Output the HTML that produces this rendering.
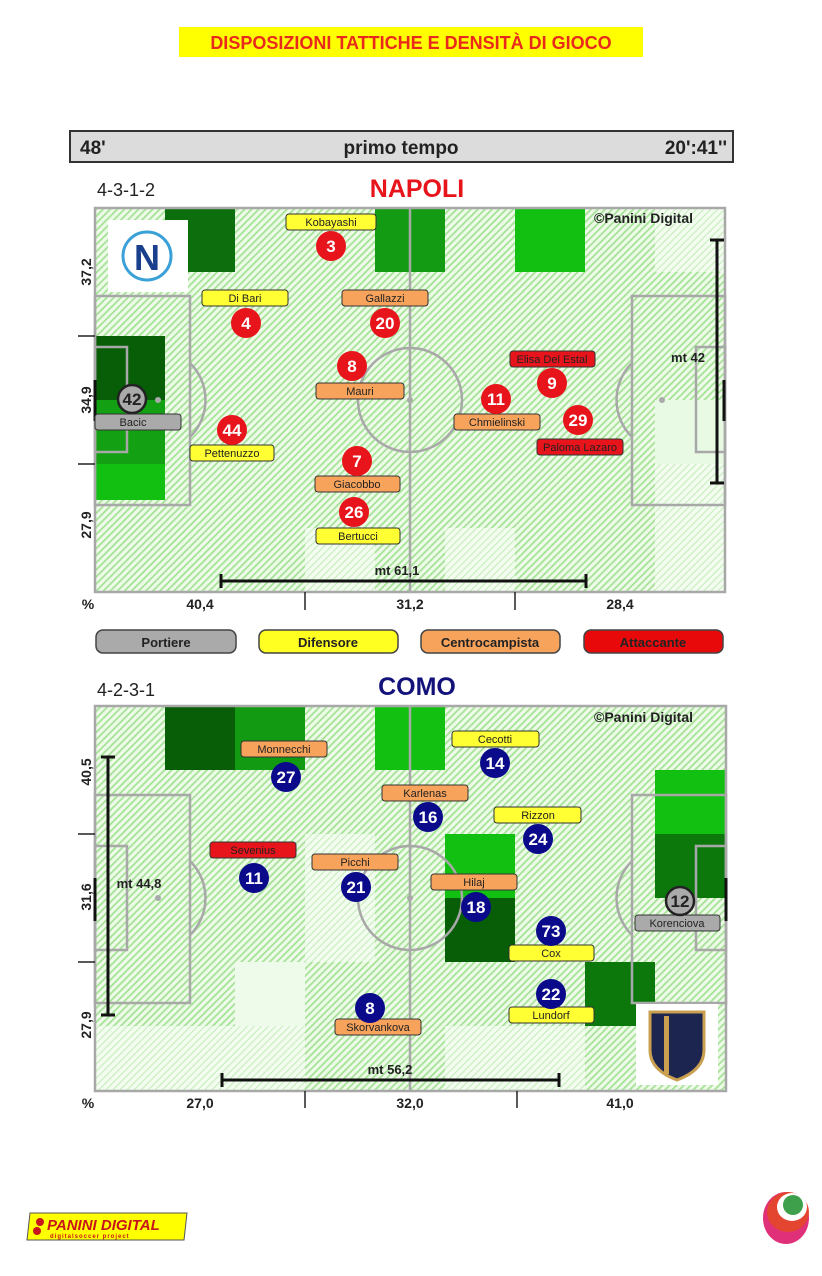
<!DOCTYPE html>
<html><head><meta charset="utf-8"><style>
html,body{margin:0;padding:0;background:#fff;width:822px;height:1276px;overflow:hidden}
svg{display:block}
text{font-family:"Liberation Sans",sans-serif}
.n{font-family:"Liberation Sans Narrow","Liberation Sans",sans-serif;font-size:11px;text-anchor:middle;fill:#222}
.num{font-family:"Liberation Sans Narrow","Liberation Sans",sans-serif;font-size:17px;font-weight:bold;fill:#fff;text-anchor:middle}
.ax{font-size:14px;font-weight:bold;fill:#222;text-anchor:middle}
.ln{stroke:#a8a8a8;stroke-width:2.5;fill:none}
.pd{font-family:"Liberation Sans Narrow","Liberation Sans",sans-serif;font-size:14px;font-weight:bold;fill:#222}
</style></head><body>
<svg width="822" height="1276" viewBox="0 0 822 1276" xmlns="http://www.w3.org/2000/svg">
<defs>
<pattern id="h" patternUnits="userSpaceOnUse" width="5" height="5" patternTransform="rotate(45)">
<rect width="5" height="5" fill="#eefbe8"/><rect width="1.8" height="5" fill="#a6e298"/>
</pattern>
<pattern id="h2" patternUnits="userSpaceOnUse" width="5" height="5" patternTransform="rotate(45)">
<rect width="5" height="5" fill="#f2fcef"/><rect width="1" height="5" fill="#c4ecba"/>
</pattern>
</defs>

<rect x="179" y="27" width="464" height="30" fill="#ffff00"/>
<text x="411" y="49" font-size="18" font-weight="bold" fill="#e8291c" text-anchor="middle">DISPOSIZIONI TATTICHE E DENSITÀ DI GIOCO</text>

<rect x="70" y="131" width="663" height="31" fill="#dcdcdc" stroke="#333" stroke-width="2"/>
<text x="80" y="154" font-size="19" font-weight="bold" fill="#222">48'</text>
<text x="401" y="154" font-size="19" font-weight="bold" fill="#222" text-anchor="middle">primo tempo</text>
<text x="727" y="154" font-size="19" font-weight="bold" fill="#222" text-anchor="end">20':41''</text>

<text x="97" y="196" font-size="18" fill="#222">4-3-1-2</text>
<text x="417" y="197" font-size="25" font-weight="bold" fill="#e8141c" text-anchor="middle">NAPOLI</text>

<rect x="95" y="208" width="630" height="384" fill="url(#h)"/>
<rect x="655" y="208" width="70" height="64" fill="url(#h2)"/>
<rect x="655" y="464" width="70" height="128" fill="url(#h2)"/>
<rect x="305" y="528" width="70" height="64" fill="url(#h2)"/>
<rect x="445" y="528" width="70" height="64" fill="url(#h2)"/>
<rect x="655" y="400" width="70" height="64" fill="#e8fae4"/>
<rect x="165" y="208" width="70" height="64" fill="#0c6e0c"/>
<rect x="375" y="208" width="70" height="64" fill="#139c13"/>
<rect x="515" y="208" width="70" height="64" fill="#12c012"/>
<rect x="95" y="336" width="70" height="64" fill="#075e07"/>
<rect x="95" y="400" width="70" height="64" fill="#13a013"/>
<rect x="95" y="464" width="70" height="36" fill="#12c012"/>
<rect x="108" y="220" width="80" height="72" fill="#fff"/>
<circle cx="147" cy="256" r="24" fill="#fff" stroke="#3aa0d8" stroke-width="3"/>
<text x="147" y="270" font-size="36" font-weight="bold" fill="#1a3f8c" text-anchor="middle">N</text>
<g class="ln">
<rect x="95" y="208" width="630" height="384"/>
<line x1="410" y1="208" x2="410" y2="592"/>
<circle cx="410" cy="400" r="52"/>
<rect x="95" y="296" width="95" height="209"/>
<rect x="95" y="347" width="32" height="105"/>
<rect x="632" y="296" width="93" height="209"/>
<rect x="696" y="347" width="29" height="105"/>
<path d="M190 363 A52 52 0 0 1 190 437"/>
<path d="M632 363 A52 52 0 0 0 632 437"/>
</g>
<circle cx="410" cy="400" r="3" fill="#aaa"/><circle cx="158" cy="400" r="3" fill="#aaa"/><circle cx="662" cy="400" r="3" fill="#aaa"/>
<text class="pd" x="594" y="223">©Panini Digital</text>
<g stroke="#111" stroke-width="3">
<line x1="221" y1="581" x2="586" y2="581"/><line x1="221" y1="574" x2="221" y2="588"/><line x1="586" y1="574" x2="586" y2="588"/>
<line x1="717" y1="240" x2="717" y2="483"/><line x1="710" y1="240" x2="724" y2="240"/><line x1="710" y1="483" x2="724" y2="483"/>
<line x1="724" y1="380" x2="724" y2="421"/>
<line x1="95" y1="380" x2="95" y2="421"/>
</g>
<text x="397" y="575" font-size="13" font-weight="bold" fill="#222" text-anchor="middle">mt 61,1</text>
<text x="688" y="362" font-size="13" font-weight="bold" fill="#222" text-anchor="middle">mt 42</text>
<g stroke="#222" stroke-width="1.5"><line x1="78" y1="336" x2="95" y2="336"/><line x1="78" y1="464" x2="95" y2="464"/><line x1="305" y1="592" x2="305" y2="610"/><line x1="515" y1="592" x2="515" y2="610"/></g>
<text class="ax" transform="translate(91,272) rotate(-90)">37,2</text>
<text class="ax" transform="translate(91,400) rotate(-90)">34,9</text>
<text class="ax" transform="translate(91,525) rotate(-90)">27,9</text>
<text class="ax" x="88" y="609">%</text>
<text class="ax" x="200" y="609">40,4</text>
<text class="ax" x="410" y="609">31,2</text>
<text class="ax" x="620" y="609">28,4</text>

<g stroke="#333" stroke-width="1">
<rect x="286" y="214" width="90" height="16" rx="3" fill="#ffff33"/>
<rect x="202" y="290" width="86" height="16" rx="3" fill="#ffff33"/>
<rect x="342" y="290" width="86" height="16" rx="3" fill="#f7a35c"/>
<rect x="316" y="383" width="88" height="16" rx="3" fill="#f7a35c"/>
<rect x="454" y="414" width="86" height="16" rx="3" fill="#f7a35c"/>
<rect x="510" y="351" width="85" height="16" rx="3" fill="#e8141c"/>
<rect x="537" y="439" width="86" height="16" rx="3" fill="#e8141c"/>
<rect x="190" y="445" width="84" height="16" rx="3" fill="#ffff33"/>
<rect x="315" y="476" width="85" height="16" rx="3" fill="#f7a35c"/>
<rect x="316" y="528" width="84" height="16" rx="3" fill="#ffff33"/>
<rect x="95" y="414" width="86" height="16" rx="3" fill="#aaa"/>
</g>
<text class="n" x="331" y="226">Kobayashi</text>
<text class="n" x="245" y="302">Di  Bari</text>
<text class="n" x="385" y="302">Gallazzi</text>
<text class="n" x="360" y="395">Mauri</text>
<text class="n" x="497" y="426">Chmielinski</text>
<text class="n" x="552" y="363">Elisa  Del  Estal</text>
<text class="n" x="580" y="451">Paloma Lazaro</text>
<text class="n" x="232" y="457">Pettenuzzo</text>
<text class="n" x="357" y="488">Giacobbo</text>
<text class="n" x="358" y="540">Bertucci</text>
<text class="n" x="133" y="426">Bacic</text>
<g fill="#e8141c">
<circle cx="331" cy="246" r="15"/><circle cx="246" cy="323" r="15"/><circle cx="385" cy="323" r="15"/>
<circle cx="352" cy="366" r="15"/><circle cx="496" cy="399" r="15"/><circle cx="552" cy="383" r="15"/>
<circle cx="578" cy="420" r="15"/><circle cx="232" cy="430" r="15"/><circle cx="357" cy="461" r="15"/>
<circle cx="354" cy="512" r="15"/>
</g>
<circle cx="132" cy="399" r="14" fill="#aaa" stroke="#222" stroke-width="2.5"/>
<text class="num" x="331" y="252">3</text><text class="num" x="246" y="329">4</text><text class="num" x="385" y="329">20</text>
<text class="num" x="352" y="372">8</text><text class="num" x="496" y="405">11</text><text class="num" x="552" y="389">9</text>
<text class="num" x="578" y="426">29</text><text class="num" x="232" y="436">44</text><text class="num" x="357" y="467">7</text>
<text class="num" x="354" y="518">26</text><text class="num" x="132" y="405" style="fill:#222">42</text>

<g stroke="#444" stroke-width="1.5">
<rect x="96" y="630" width="140" height="23" rx="7" fill="#aaa"/>
<rect x="259" y="630" width="139" height="23" rx="7" fill="#ffff22"/>
<rect x="421" y="630" width="139" height="23" rx="7" fill="#f7a35c"/>
<rect x="584" y="630" width="139" height="23" rx="7" fill="#e80a0a"/>
</g>
<g font-size="13" font-weight="bold" fill="#222" text-anchor="middle">
<text x="166" y="647">Portiere</text><text x="328" y="647">Difensore</text><text x="490" y="647">Centrocampista</text><text x="653" y="647">Attaccante</text>
</g>

<text x="97" y="696" font-size="18" fill="#222">4-2-3-1</text>
<text x="417" y="695" font-size="25" font-weight="bold" fill="#12127a" text-anchor="middle">COMO</text>

<rect x="95" y="706" width="631" height="385" fill="url(#h)"/>
<rect x="235" y="962" width="70" height="64" fill="#eefbea"/>
<rect x="95" y="1026" width="210" height="65" fill="url(#h2)"/>
<rect x="305" y="834" width="70" height="128" fill="url(#h2)"/>
<rect x="445" y="1026" width="140" height="65" fill="url(#h2)"/>
<rect x="165" y="706" width="70" height="64" fill="#075e07"/>
<rect x="235" y="706" width="70" height="64" fill="#129a12"/>
<rect x="375" y="706" width="70" height="64" fill="#12c012"/>
<rect x="445" y="834" width="70" height="64" fill="#12c012"/>
<rect x="445" y="898" width="70" height="64" fill="#075e07"/>
<rect x="655" y="770" width="70" height="64" fill="#12c012"/>
<rect x="655" y="834" width="70" height="64" fill="#0c780c"/>
<rect x="585" y="962" width="70" height="64" fill="#0c780c"/>
<g class="ln">
<rect x="95" y="706" width="631" height="385"/>
<line x1="410" y1="706" x2="410" y2="1091"/>
<circle cx="410" cy="898" r="52"/>
<rect x="95" y="795" width="95" height="208"/>
<rect x="95" y="846" width="32" height="104"/>
<rect x="632" y="795" width="94" height="208"/>
<rect x="696" y="846" width="30" height="104"/>
<path d="M190 861 A52 52 0 0 1 190 935"/>
<path d="M632 861 A52 52 0 0 0 632 935"/>
</g>
<circle cx="410" cy="898" r="3" fill="#aaa"/><circle cx="158" cy="898" r="3" fill="#aaa"/>
<rect x="636" y="1004" width="82" height="81" fill="#fff"/>
<path d="M650 1012 L704 1012 L704 1050 Q704 1070 677 1080 Q650 1070 650 1050 Z" fill="#1c2450" stroke="#c8a050" stroke-width="3"/>
<rect x="664" y="1016" width="5" height="58" fill="#c8a050"/>
<text class="pd" x="594" y="722">©Panini Digital</text>
<g stroke="#111" stroke-width="3">
<line x1="222" y1="1080" x2="559" y2="1080"/><line x1="222" y1="1073" x2="222" y2="1087"/><line x1="559" y1="1073" x2="559" y2="1087"/>
<line x1="108" y1="757" x2="108" y2="1015"/><line x1="101" y1="757" x2="115" y2="757"/><line x1="101" y1="1015" x2="115" y2="1015"/>
<line x1="726" y1="878" x2="726" y2="921"/>
<line x1="95" y1="878" x2="95" y2="921"/>
</g>
<text x="390" y="1074" font-size="13" font-weight="bold" fill="#222" text-anchor="middle">mt 56,2</text>
<text x="139" y="888" font-size="13" font-weight="bold" fill="#222" text-anchor="middle">mt 44,8</text>
<g stroke="#222" stroke-width="1.5"><line x1="78" y1="834" x2="95" y2="834"/><line x1="78" y1="962" x2="95" y2="962"/><line x1="305" y1="1091" x2="305" y2="1108"/><line x1="517" y1="1091" x2="517" y2="1108"/></g>
<text class="ax" transform="translate(91,772) rotate(-90)">40,5</text>
<text class="ax" transform="translate(91,897) rotate(-90)">31,6</text>
<text class="ax" transform="translate(91,1025) rotate(-90)">27,9</text>
<text class="ax" x="88" y="1108">%</text>
<text class="ax" x="200" y="1108">27,0</text>
<text class="ax" x="410" y="1108">32,0</text>
<text class="ax" x="620" y="1108">41,0</text>

<g stroke="#333" stroke-width="1">
<rect x="241" y="741" width="86" height="16" rx="3" fill="#f7a35c"/>
<rect x="452" y="731" width="87" height="16" rx="3" fill="#ffff33"/>
<rect x="382" y="785" width="86" height="16" rx="3" fill="#f7a35c"/>
<rect x="494" y="807" width="87" height="16" rx="3" fill="#ffff33"/>
<rect x="210" y="842" width="86" height="16" rx="3" fill="#e8141c"/>
<rect x="312" y="854" width="86" height="16" rx="3" fill="#f7a35c"/>
<rect x="431" y="874" width="86" height="16" rx="3" fill="#f7a35c"/>
<rect x="509" y="945" width="85" height="16" rx="3" fill="#ffff33"/>
<rect x="509" y="1007" width="85" height="16" rx="3" fill="#ffff33"/>
<rect x="335" y="1019" width="86" height="16" rx="3" fill="#f7a35c"/>
<rect x="635" y="915" width="85" height="16" rx="3" fill="#aaa"/>
</g>
<text class="n" x="284" y="753">Monnecchi</text>
<text class="n" x="495" y="743">Cecotti</text>
<text class="n" x="425" y="797">Karlenas</text>
<text class="n" x="538" y="819">Rizzon</text>
<text class="n" x="253" y="854">Sevenius</text>
<text class="n" x="355" y="866">Picchi</text>
<text class="n" x="474" y="886">Hilaj</text>
<text class="n" x="551" y="957">Cox</text>
<text class="n" x="551" y="1019">Lundorf</text>
<text class="n" x="378" y="1031">Skorvankova</text>
<text class="n" x="677" y="927">Korenciova</text>
<g fill="#0a0a8a">
<circle cx="286" cy="777" r="15"/><circle cx="495" cy="763" r="15"/><circle cx="428" cy="817" r="15"/>
<circle cx="538" cy="839" r="15"/><circle cx="254" cy="878" r="15"/><circle cx="356" cy="887" r="15"/>
<circle cx="476" cy="907" r="15"/><circle cx="551" cy="931" r="15"/><circle cx="551" cy="994" r="15"/>
<circle cx="370" cy="1008" r="15"/>
</g>
<circle cx="680" cy="901" r="14" fill="#aaa" stroke="#222" stroke-width="2.5"/>
<text class="num" x="286" y="783">27</text><text class="num" x="495" y="769">14</text><text class="num" x="428" y="823">16</text>
<text class="num" x="538" y="845">24</text><text class="num" x="254" y="884">11</text><text class="num" x="356" y="893">21</text>
<text class="num" x="476" y="913">18</text><text class="num" x="551" y="937">73</text><text class="num" x="551" y="1000">22</text>
<text class="num" x="370" y="1014">8</text><text class="num" x="680" y="907" style="fill:#222">12</text>

<path d="M30 1213 L187 1213 L184 1240 L27 1240 Z" fill="#ffff00" stroke="#555" stroke-width="1"/>
<circle cx="40" cy="1222" r="4" fill="#c8141c"/><circle cx="37" cy="1231" r="4" fill="#c8141c"/>
<text x="47" y="1230" font-size="15" font-weight="bold" font-style="italic" fill="#c8141c">PANINI DIGITAL</text>
<text x="50" y="1238" font-size="6" font-weight="bold" fill="#c8141c" letter-spacing="1">digitalsoccer project</text>
<ellipse cx="786" cy="1218" rx="23" ry="26" fill="#e0307a"/>
<ellipse cx="788" cy="1212" rx="21" ry="20" fill="#e34530"/>
<ellipse cx="792" cy="1207" rx="15" ry="14" fill="#fff"/>
<circle cx="793" cy="1205" r="10" fill="#3ea04a"/>
</svg>
</body></html>
